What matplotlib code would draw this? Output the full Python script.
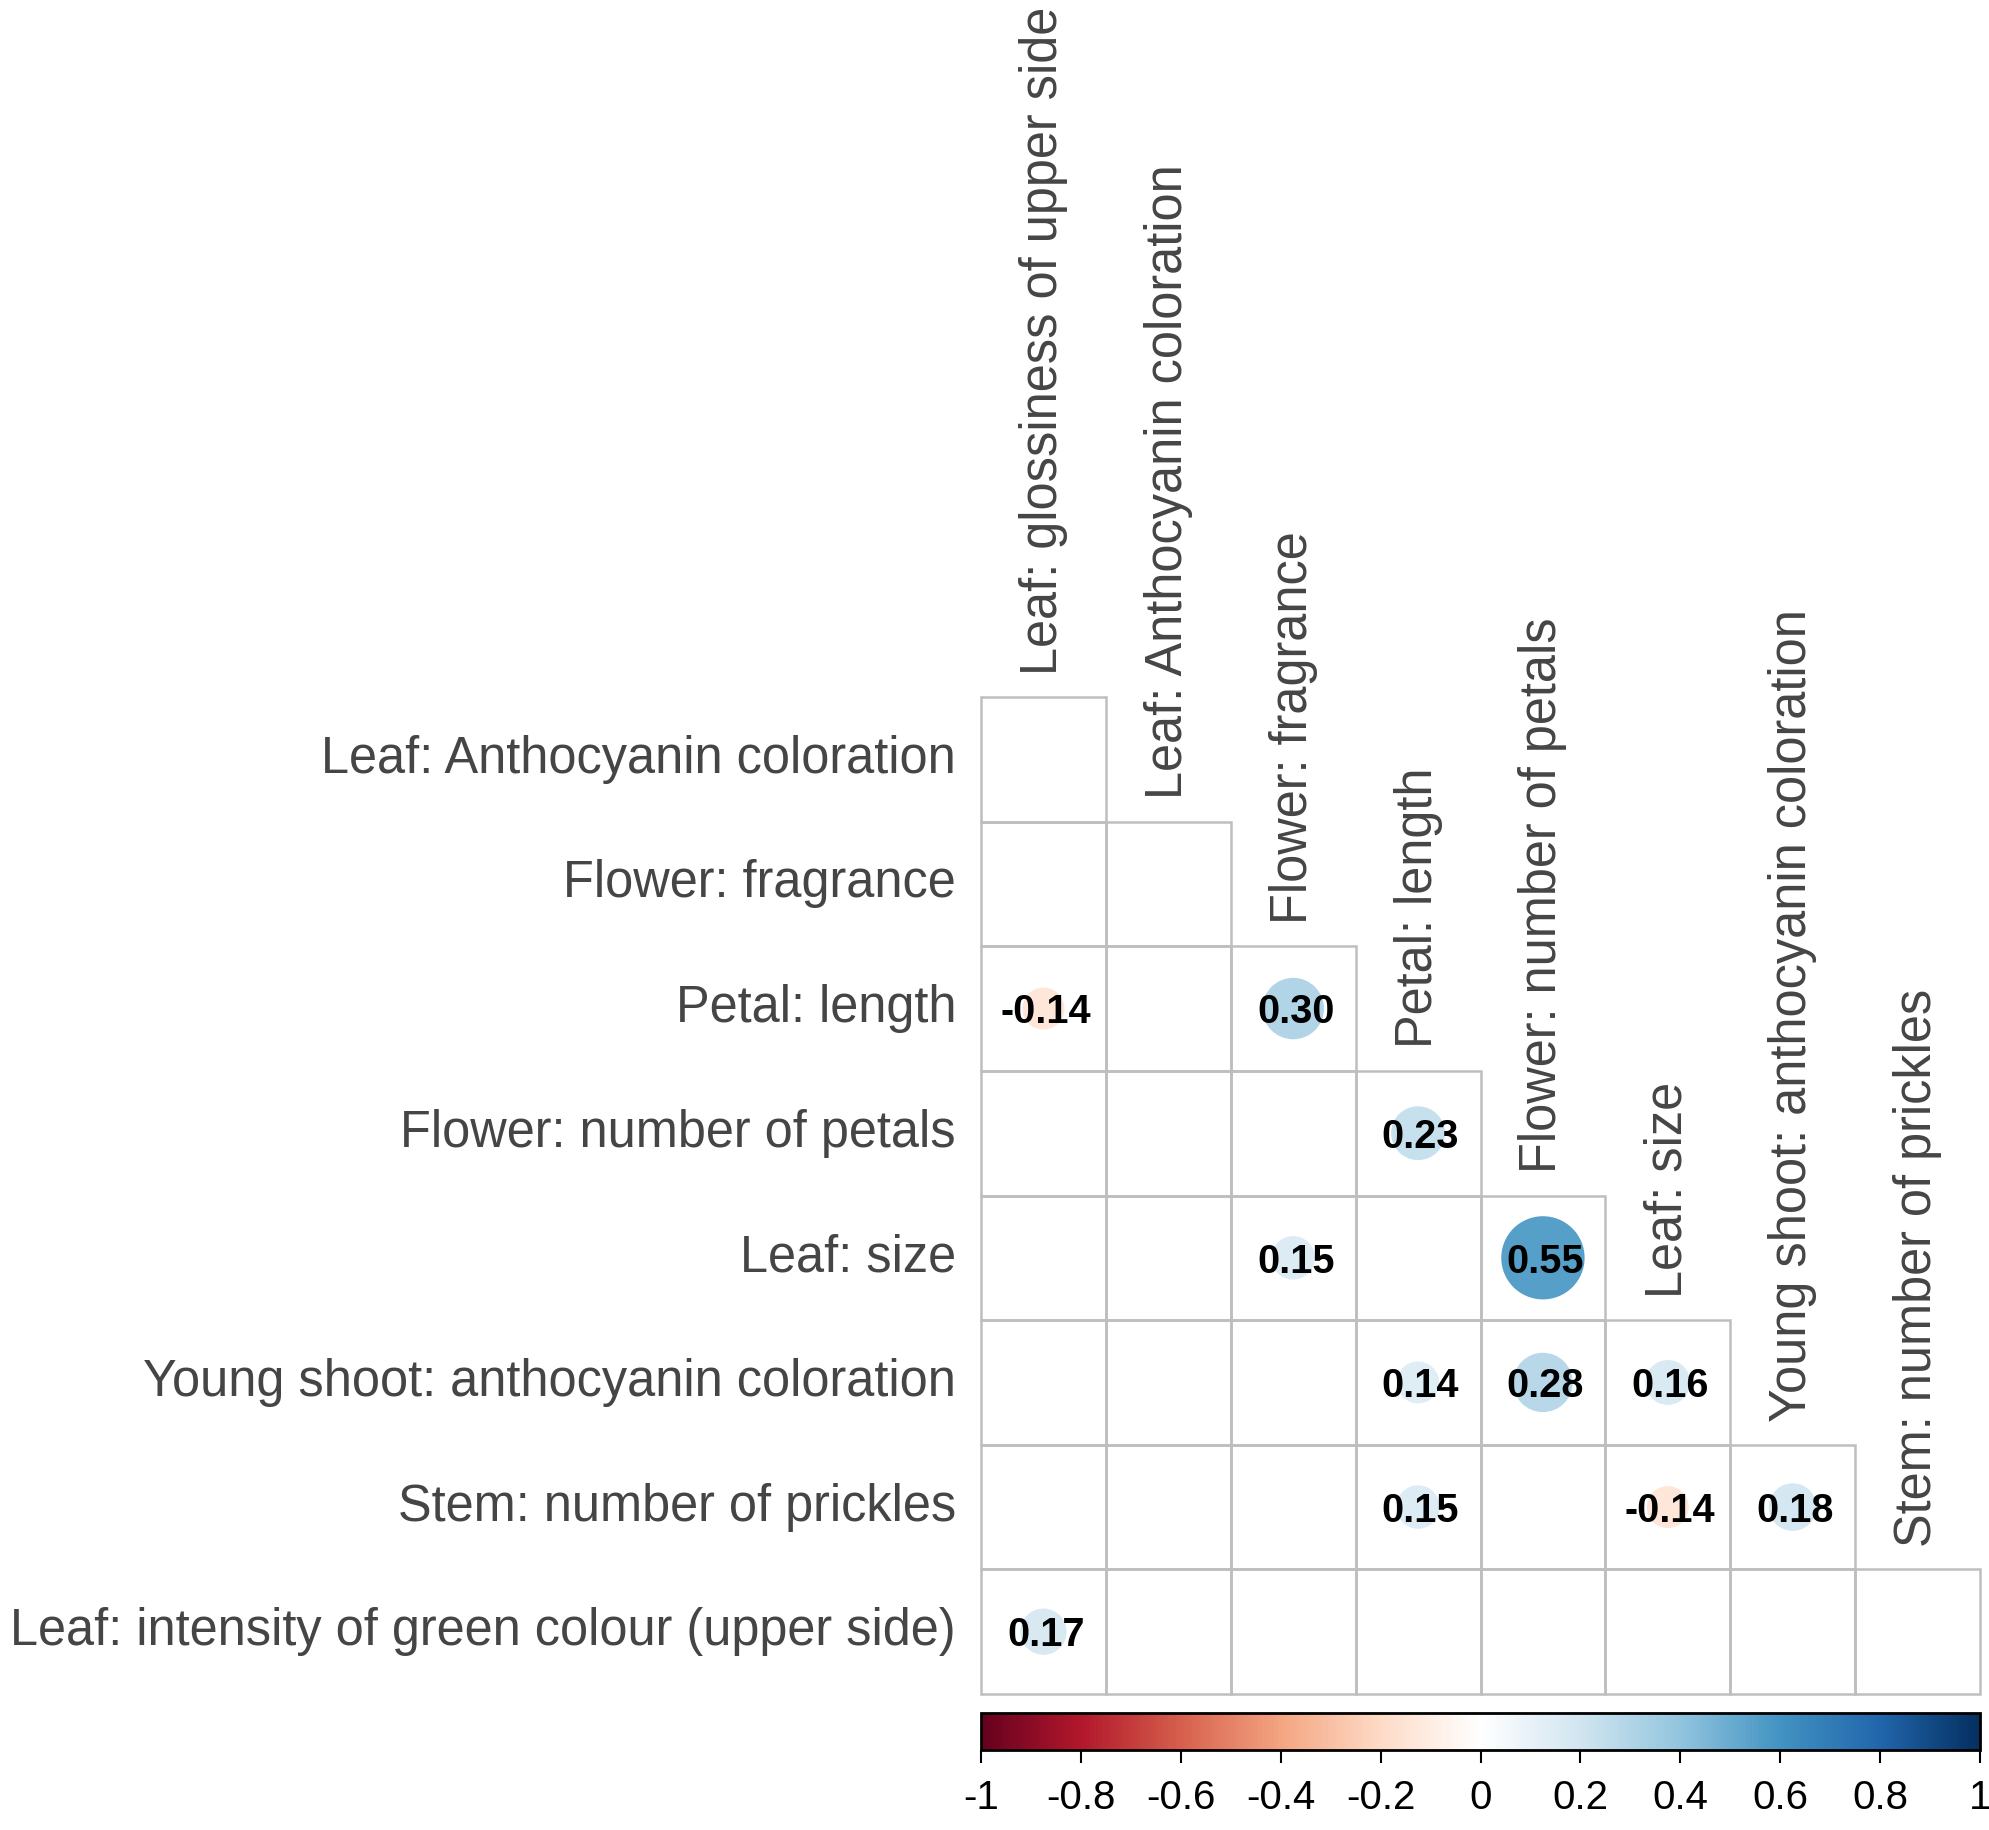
import numpy as np
import matplotlib
matplotlib.use("Agg")
import matplotlib.pyplot as plt
from matplotlib.patches import Rectangle, Circle
from matplotlib.colors import Normalize, LinearSegmentedColormap
from matplotlib.cm import ScalarMappable

plt.rcParams['font.family'] = ['Liberation Sans', 'DejaVu Sans']

# Etiquetas de filas y columnas
row_labels = ["Leaf: Anthocyanin coloration",
              "Flower: fragrance",
              "Petal: length",
              "Flower: number of petals",
              "Leaf: size",
              "Young shoot: anthocyanin coloration",
              "Stem: number of prickles",
              "Leaf: intensity of green colour (upper side)"]
col_labels = ["Leaf: glossiness of upper side",
              "Leaf: Anthocyanin coloration",
              "Flower: fragrance",
              "Petal: length",
              "Flower: number of petals",
              "Leaf: size",
              "Young shoot: anthocyanin coloration",
              "Stem: number of prickles"]

# Correlaciones significativas (fila, columna, valor)
sig_rows = [2, 2, 3, 4, 4, 5, 5, 5, 6, 6, 6, 7]
sig_cols = [0, 2, 3, 2, 4, 3, 4, 5, 3, 5, 6, 0]
sig_vals = [-0.14, 0.30, 0.23, 0.15, 0.55, 0.14, 0.28, 0.16, 0.15, -0.14, 0.18, 0.17]

cbar_ticks = [-1, -0.8, -0.6, -0.4, -0.2, 0, 0.2, 0.4, 0.6, 0.8, 1]
cbar_ticklabels = ["-1", "-0.8", "-0.6", "-0.4", "-0.2", "0", "0.2", "0.4", "0.6", "0.8", "1"]

W, H = 1990, 1830
fig = plt.figure(figsize=(W / 100, H / 100), dpi=100)

n = len(row_labels)
# paleta RdBu con centro blanco (como corrplot)
cmap = LinearSegmentedColormap.from_list("rdbu_w", [
    "#67001F", "#B2182B", "#D6604D", "#F4A582", "#FDDBC7", "#FFFFFF",
    "#D1E5F0", "#92C5DE", "#4393C3", "#2166AC", "#053061"])
norm = Normalize(-1, 1)

# Ejes de la matriz
ax = fig.add_axes([981 / W, (H - 1694) / H, 999 / W, 997 / H])
ax.set_xlim(0, n)
ax.set_ylim(n, 0)
ax.axis("off")

text_col = "#454545"
for i in range(n):
    for j in range(i + 1):
        ax.add_patch(Rectangle((j, i), 1, 1, fill=False, edgecolor="#BEBEBE",
                               linewidth=1.8, clip_on=False))
    ax.text(-0.2, i + 0.5, row_labels[i], ha="right", va="center",
            fontsize=36.4, color=text_col)
for j in range(n):
    ax.text(j + 0.5, j - 0.18, col_labels[j], rotation=90, ha="center",
            va="bottom", fontsize=36.4, color=text_col)

for r, c, v in zip(sig_rows, sig_cols, sig_vals):
    ax.add_patch(Circle((c + 0.5, r + 0.5), 0.45 * np.sqrt(abs(v)),
                        facecolor=cmap(norm(v)), edgecolor="none"))
    ax.text(c + 0.52, r + 0.53, "%.2f" % v, ha="center", va="center",
            fontsize=28.5, fontweight="bold", color="black")

# Barra de color
cax = fig.add_axes([981 / W, (H - 1750) / H, 999 / W, 37 / H])
cb = fig.colorbar(ScalarMappable(norm=norm, cmap=cmap), cax=cax,
                  orientation="horizontal", ticks=cbar_ticks)
cb.ax.set_xticklabels(cbar_ticklabels)
cb.outline.set_linewidth(2)
cb.outline.set_edgecolor("black")
cax.tick_params(axis="x", length=9, width=1.5, labelsize=29, pad=12,
                colors="black")

fig.savefig("out.png", dpi=100)
